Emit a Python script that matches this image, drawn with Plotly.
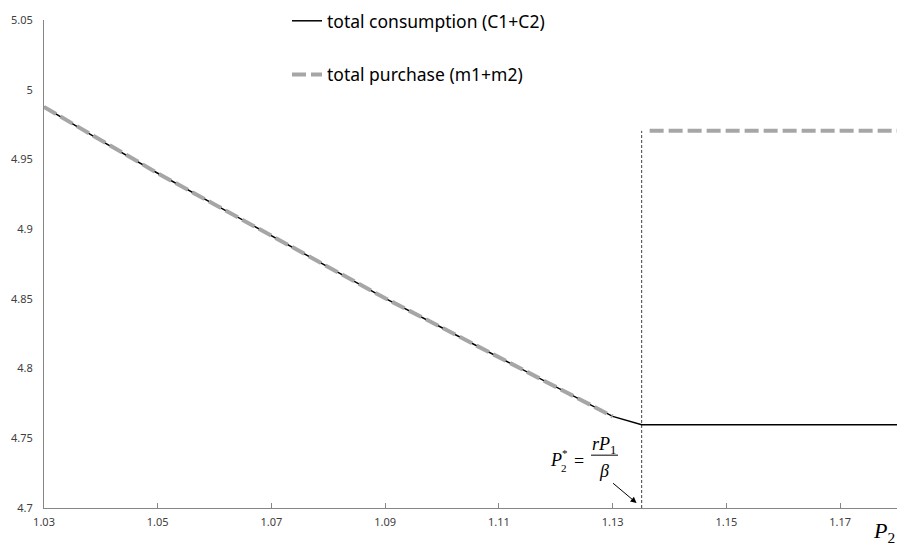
import plotly.graph_objects as go

# ---- data ----
p2_star = 1.1351
cons_x = [1.03, 1.04, 1.05, 1.06, 1.07, 1.08, 1.09, 1.10, 1.11, 1.12, 1.13,
          p2_star, 1.14, 1.15, 1.16, 1.17, 1.18]
cons_y = [4.9876, 4.9635, 4.9401, 4.9177, 4.8953, 4.8726, 4.8504, 4.8293,
          4.8082, 4.7870, 4.7657, 4.7597, 4.7597, 4.7597, 4.7597, 4.7597, 4.7597]

purch_x = [1.03, 1.04, 1.05, 1.06, 1.07, 1.08, 1.09, 1.10, 1.11, 1.12, 1.13,
           p2_star, 1.1365, 1.14, 1.15, 1.16, 1.17, 1.18]
purch_y = [4.9876, 4.9635, 4.9401, 4.9177, 4.8953, 4.8726, 4.8504, 4.8293,
           4.8082, 4.7870, 4.7657, None, 4.9705, 4.9705, 4.9705, 4.9705, 4.9705, 4.9705]

x_ticks = [1.03, 1.05, 1.07, 1.09, 1.11, 1.13, 1.15, 1.17]
x_tick_text = ["1.03", "1.05", "1.07", "1.09", "1.11", "1.13", "1.15", "1.17"]
y_ticks = [4.7, 4.75, 4.8, 4.85, 4.9, 4.95, 5.0, 5.05]
y_tick_text = ["4.7", "4.75", "4.8", "4.85", "4.9", "4.95", "5", "5.05"]

vline_y = [4.7, 4.9705]

fig = go.Figure()

fig.add_trace(go.Scatter(
    x=[p2_star, p2_star], y=vline_y, mode="lines",
    line=dict(color="#404040", width=1, dash="3px,2px"),
    showlegend=False, hoverinfo="skip"))

fig.add_trace(go.Scatter(
    x=cons_x, y=cons_y, mode="lines", name="total consumption (C1+C2)",
    line=dict(color="#000000", width=1.5),
    legendgroup="a", legendrank=1))

fig.add_trace(go.Scatter(
    x=purch_x, y=purch_y, mode="lines", name="total purchase (m1+m2)",
    line=dict(color="#A6A6A6", width=4, dash="14px,5px"),
    connectgaps=False, legendgroup="b", legendrank=2))

serif = "Liberation Serif"
W, H, L, B = 853, 508, 44, 40


def px(xp):
    return (xp - L) / W


def py(yp):
    return (548 - yp - B) / H


fs = 18
fig.add_annotation(xref="paper", yref="paper", x=px(556), y=py(458),
                   text="<i>P</i>", showarrow=False,
                   font=dict(family=serif, size=fs, color="#000"), xanchor="center", yanchor="middle")
fig.add_annotation(xref="paper", yref="paper", x=px(564), y=py(466),
                   text="2", showarrow=False,
                   font=dict(family=serif, size=11, color="#000"), xanchor="center", yanchor="middle")
fig.add_annotation(xref="paper", yref="paper", x=px(565), y=py(451),
                   text="*", showarrow=False,
                   font=dict(family=serif, size=11, color="#000"), xanchor="center", yanchor="middle")
fig.add_annotation(xref="paper", yref="paper", x=px(579), y=py(459),
                   text="=", showarrow=False,
                   font=dict(family=serif, size=fs, color="#000"), xanchor="center", yanchor="middle")
fig.add_annotation(xref="paper", yref="paper", x=px(604), y=py(443),
                   text="<i>rP</i><sub>1</sub>", showarrow=False,
                   font=dict(family=serif, size=fs, color="#000"), xanchor="center", yanchor="middle")
fig.add_annotation(xref="paper", yref="paper", x=px(604), y=py(469),
                   text="<i>β</i>", showarrow=False,
                   font=dict(family=serif, size=fs, color="#000"), xanchor="center", yanchor="middle")
fig.add_shape(type="line", xref="paper", yref="paper",
              x0=px(591), x1=px(618), y0=py(453), y1=py(453),
              line=dict(color="#000", width=1))

# arrow to P2*
fig.add_annotation(x=1.1342, y=4.7036, ax=-25, ay=-21, text="", showarrow=True,
                   arrowhead=2, arrowsize=1.2, arrowwidth=1, arrowcolor="#000")

# axis title P2
fig.add_annotation(xref="paper", yref="paper", x=px(884), y=py(533),
                   text="<i>P</i><sub>2</sub>", showarrow=False,
                   font=dict(family=serif, size=22, color="#000"), xanchor="center", yanchor="middle")

fig.update_layout(
    width=900, height=548,
    margin=dict(l=L, r=3, t=15, b=B),
    paper_bgcolor="white", plot_bgcolor="white",
    font=dict(family="Noto Sans", size=11, color="#404040"),
    legend=dict(x=px(287), y=1.035, xanchor="left", yanchor="top",
                font=dict(family="Noto Sans", size=17.5, color="#000"),
                tracegroupgap=28, itemwidth=30, bgcolor="rgba(0,0,0,0)",
                traceorder="grouped"),
    xaxis=dict(range=[1.03, 1.18], tickvals=x_ticks, ticktext=x_tick_text,
               showgrid=False, zeroline=False, showline=True, linecolor="#868686",
               linewidth=1, ticks="inside", ticklen=5, tickcolor="#868686",
               ticklabelstandoff=4,
               tickfont=dict(size=11, color="#404040")),
    yaxis=dict(range=[4.7, 5.05], tickvals=y_ticks, ticktext=y_tick_text,
               showgrid=False, zeroline=False, showline=True, linecolor="#868686",
               linewidth=1, ticks="", ticklabelstandoff=8,
               tickfont=dict(size=11, color="#404040")),
)

fig.write_html("out.html")
